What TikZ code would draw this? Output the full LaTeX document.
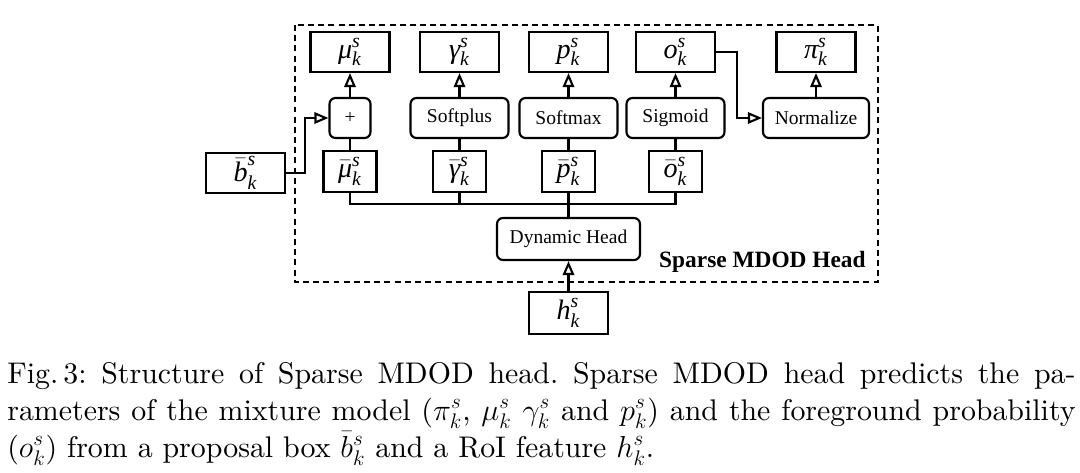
\documentclass[tikz,border=0pt]{standalone}
\usepackage{fontspec}
\usepackage{amsmath}
\usetikzlibrary{arrows.meta, positioning}
\newfontfamily\tms{Liberation Serif}
\newfontfamily\capfont{lmroman10-regular}[Extension=.otf]
\newcommand{\symsk}[1]{$\text{\itshape #1}^{\text{\itshape s}}_{\text{\itshape k}}$}
\newcommand{\barsk}[1]{$\bar{\text{\itshape #1}}^{\text{\itshape s}}_{\text{\itshape k}}$}
\tikzset{
  symbox/.style={rectangle, draw, line width=1.2pt, minimum width=1.58cm, minimum height=0.8cm, inner sep=0pt, font=\tms\fontsize{16}{17}\selectfont},
  barbox/.style={symbox, minimum width=1.06cm, minimum height=0.82cm},
  opbox/.style={rectangle, rounded corners=3.4pt, draw, line width=1.2pt, minimum width=1.96cm, minimum height=0.8cm, inner sep=0pt, font=\tms\fontsize{11.1}{13}\selectfont},
  link/.style={line width=1.2pt},
  headarrow/.style={-{Triangle[open, length=8pt, width=6.5pt]}, line width=1.2pt},
  headframe/.style={dashed, line width=1.2pt, dash pattern=on 3.4pt off 2.4pt},
  headtitle/.style={font=\tms\fontsize{13.3}{15}\selectfont\bfseries, inner sep=0pt},
  caption/.style={text width=608pt, align=justify, inner sep=0pt, font=\capfont\fontsize{17}{21.06}\selectfont\frenchspacing},
}
\begin{document}
\begin{tikzpicture}[x=0.02cm, y=-0.02cm]
  \useasboundingbox (0,0) rectangle (1080,473);

  % Head frame
  \draw[headframe] (295,25) rectangle (878,282);
  \node[headtitle, anchor=base east] (title) at (866,268) {Sparse MDOD Head};

  % Outputs
  \node[symbox] (mu) at (350,52) {\symsk{μ}};
  \node[symbox] (gam) at (459.5,52) {\symsk{γ}};
  \node[symbox] (p) at (568.5,52) {\symsk{p}};
  \node[symbox] (o) at (675.5,52) {\symsk{o}};
  \node[symbox] (pi) at (816,52) {\symsk{π}};

  % Activations
  \node[opbox, minimum width=0.82cm] (plus) at (350,118) {+};
  \node[opbox] (softplus) at (459.5,118) {Softplus};
  \node[opbox] (softmax) at (568.5,118) {Softmax};
  \node[opbox] (sigmoid) at (675.5,118) {Sigmoid};
  \node[opbox, minimum width=2.12cm] (normalize) at (816,118) {Normalize};

  % Raw predictions
  \node[barbox] (mubar) at (350,171.5) {\barsk{μ}};
  \node[barbox] (gambar) at (459.5,171.5) {\barsk{γ}};
  \node[barbox] (pbar) at (568.5,171.5) {\barsk{p}};
  \node[barbox] (obar) at (675.5,171.5) {\barsk{o}};

  % Inputs
  \node[symbox] (bbar) at (245.5,173) {\barsk{b}};
  \node[opbox, minimum width=2.86cm, minimum height=0.84cm] (dyn) at (568.5,239) {Dynamic Head};
  \node[symbox, minimum height=0.84cm] (h) at (568.5,313) {\symsk{h}};

  % Caption
  \node[caption, anchor=base west] (cap) at (7,383) {Fig.\,3: Structure of Sparse MDOD head. Sparse MDOD head predicts the pa-\linebreak rameters of the mixture model ($\pi_k^s$, $\mu_k^s$ $\gamma_k^s$ and $p_k^s$) and the foreground probability\linebreak ($o_k^s$) from a proposal box $\bar{b}_k^s$ and a RoI feature $h_k^s$.};

  % Connectors
  \coordinate (bus) at (568.5,204);
  \draw[headarrow] (h) -- (dyn);
  \draw[link] (dyn) -- (pbar);
  \draw[link] (mubar.south) |- (bus) -| (obar.south);
  \draw[link] (gambar.south) -- (gambar.south |- bus);
  \draw[link] (mubar) -- (plus);
  \draw[link] (gambar) -- (softplus);
  \draw[link] (pbar) -- (softmax);
  \draw[link] (obar) -- (sigmoid);
  \draw[headarrow] (plus) -- (mu);
  \draw[headarrow] (softplus) -- (gam);
  \draw[headarrow] (softmax) -- (p);
  \draw[headarrow] (sigmoid) -- (o);
  \draw[headarrow] (normalize) -- (pi);
  \draw[headarrow] (bbar.east) -- ++(19,0) |- (plus.west);
  \draw[headarrow] (o.east) -- ++(21,0) |- (normalize.west);
\end{tikzpicture}
\end{document}
